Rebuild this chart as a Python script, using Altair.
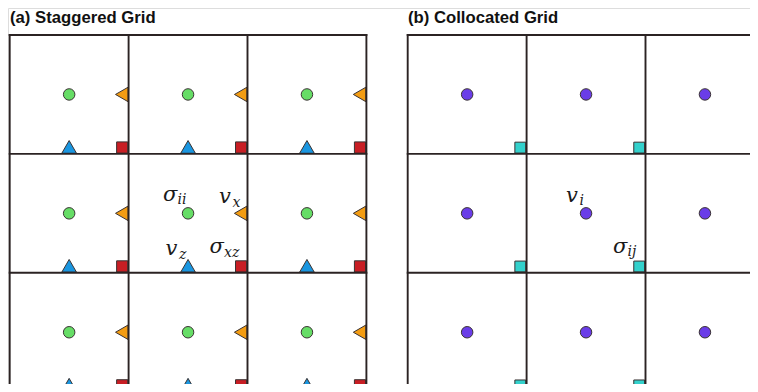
import altair as alt
import pandas as pd

# ---------------- data ----------------
panel_titles = ["(a) Staggered Grid", "(b) Collocated Grid"]
panel_keys = ["a", "b"]
cols = [0, 1, 2]
rows = [0, 1, 2]
grid_lines = [0, 1, 2, 3]

# label pieces: panel, text, kind (main/sub)
label_panel = ["a", "a", "a", "a", "a", "a", "a", "a", "b", "b", "b", "b"]
label_text = ["σ", "ii", "v", "x", "v", "z", "σ", "xz", "v", "i", "σ", "ij"]
label_kind = ["main", "sub", "main", "sub", "main", "sub", "main", "sub",
              "main", "sub", "main", "sub"]

# ---------------- layout (pixels) ----------------
CELL = 118.9          # px per grid cell
X0, Y0 = 9.7, 35.0    # page px of the top-left grid corner of panel (a)
PANEL_GAP_PX = 398.0  # horizontal offset of panel (b)
W, H = 742, 376
panel_offset = {"a": 0.0, "b": PANEL_GAP_PX / CELL}

# pixel offsets of the label pieces relative to the middle cell centre
label_dx = [-25, -10.5, 31, 44.5, -22.5, -9, 21.5, 36, -20, -6.5, 27, 41.5]
label_dy = [-12.7, -9.4, -10, -6.7, 41.7, 45.7, 40, 44, -11.7, -8.5, 39.4, 42.7]

xs = alt.Scale(domain=[(8 - X0) / CELL, (8 + W - X0) / CELL], nice=False, zero=False)
ys = alt.Scale(domain=[(8 - Y0) / CELL, (8 + H - Y0) / CELL], nice=False, zero=False,
               reverse=True)

# ---------------- tables ----------------
vlines, hlines = [], []
for p in panel_keys:
    off = panel_offset[p]
    for k in grid_lines:
        vlines.append({"x": off + k, "y": 0, "y2": 3})
        hlines.append({"x": off, "x2": off + 3, "y": k})
vdf = pd.DataFrame(vlines)
hdf = pd.DataFrame(hlines)

cells = []
for p in panel_keys:
    for c in cols:
        for r in rows:
            cells.append({"panel": p, "col": panel_offset[p] + c, "row": r})
cdf = pd.DataFrame(cells)
cdf["cx"] = cdf["col"] + 0.5
cdf["cy"] = cdf["row"] + 0.5
cdf["rx"] = cdf["col"] + 1
cdf["by"] = cdf["row"] + 1
adf = cdf[cdf.panel == "a"]
bdf = cdf[cdf.panel == "b"]

X = lambda f: alt.X(f"{f}:Q", scale=xs, axis=None)
Y = lambda f: alt.Y(f"{f}:Q", scale=ys, axis=None)

STROKE = "#3a3333"
LINE = "#2b2323"

layers = []

# markers, panel (a)
layers.append(alt.Chart(adf).mark_point(shape="circle", size=132, filled=True, fill="#66dd66",
                                        stroke=STROKE, strokeWidth=1, opacity=1, clip=True)
              .encode(x=X("cx"), y=Y("cy")))
layers.append(alt.Chart(adf).mark_point(shape="triangle-left", size=210, filled=True,
                                        fill="#f39c12", stroke=STROKE, strokeWidth=1, opacity=1,
                                        xOffset=-6.8, clip=True)
              .encode(x=X("rx"), y=Y("cy")))
layers.append(alt.Chart(adf).mark_point(shape="triangle-up", size=215, filled=True,
                                        fill="#1a96e0", stroke=STROKE, strokeWidth=1, opacity=1,
                                        yOffset=-7.0, clip=True)
              .encode(x=X("cx"), y=Y("by")))
layers.append(alt.Chart(adf).mark_point(shape="square", size=125, filled=True, fill="#c81e24",
                                        stroke=STROKE, strokeWidth=1, opacity=1,
                                        xOffset=-6.4, yOffset=-6.4, clip=True)
              .encode(x=X("rx"), y=Y("by")))

# markers, panel (b)
layers.append(alt.Chart(bdf).mark_point(shape="circle", size=132, filled=True, fill="#6a3de8",
                                        stroke=STROKE, strokeWidth=1, opacity=1, clip=True)
              .encode(x=X("cx"), y=Y("cy")))
layers.append(alt.Chart(bdf).mark_point(shape="square", size=118, filled=True, fill="#33d1cc",
                                        stroke=STROKE, strokeWidth=1, opacity=1,
                                        xOffset=-6.3, yOffset=-6.3, clip=True)
              .encode(x=X("rx"), y=Y("by")))

# grid lines
layers.append(alt.Chart(vdf).mark_rule(color=LINE, strokeWidth=1.9, strokeCap="square", clip=True)
              .encode(x=X("x"), y=Y("y"), y2="y2:Q"))
layers.append(alt.Chart(hdf).mark_rule(color=LINE, strokeWidth=1.9, strokeCap="square", clip=True)
              .encode(x=X("x"), x2="x2:Q", y=Y("y")))

# panel titles
tdf = pd.DataFrame({"title": panel_titles,
                    "x": [panel_offset[p] for p in panel_keys],
                    "y": [0, 0]})
layers.append(alt.Chart(tdf).mark_text(align="left", baseline="alphabetic", dx=0.3, dy=-12.3,
                                       font="Liberation Sans", fontWeight="bold", fontSize=16.7,
                                       color="#111111")
              .encode(x=X("x"), y=Y("y"), text="title:N"))

# math labels
for p, t, k, dx, dy in zip(label_panel, label_text, label_kind, label_dx, label_dy):
    ldf = pd.DataFrame({"t": [t], "x": [panel_offset[p] + 1.5], "y": [1.5]})
    layers.append(alt.Chart(ldf).mark_text(align="left", baseline="alphabetic", dx=dx, dy=dy,
                                           font="DejaVu Serif", fontStyle="italic",
                                           fontSize=21 if k == "main" else 14,
                                           color="#1a1a1a")
                  .encode(x=X("x"), y=Y("y"), text="t:N"))

chart = alt.layer(*layers).properties(
    width=W, height=H, padding=0,
    autosize=alt.AutoSizeParams(type="fit", contains="padding"),
).configure_view(stroke=None).configure(background="white")

chart.save("out.html", embed_options={"renderer": "svg", "actions": False})
